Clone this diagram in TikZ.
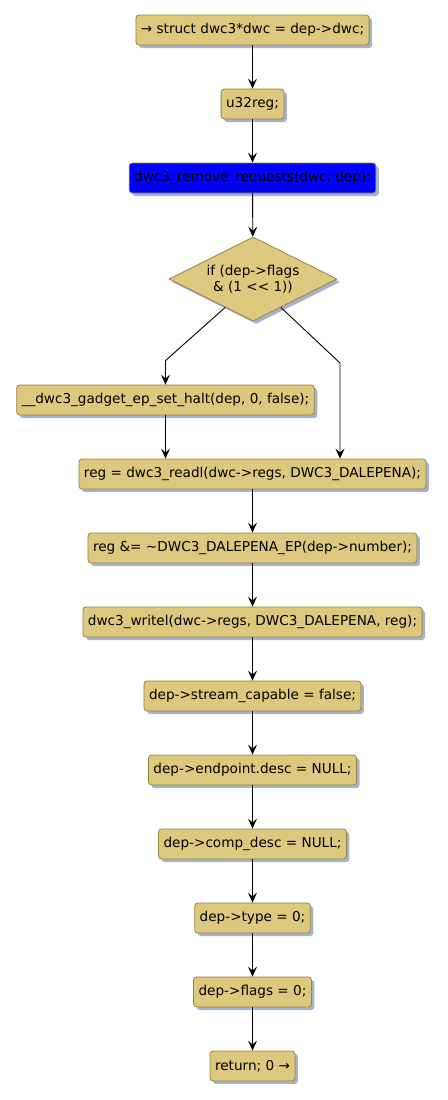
\documentclass[tikz,border=0pt]{standalone}
\usepackage{fontspec}
\setmainfont{DejaVu Sans}
\usetikzlibrary{arrows.meta,shapes.geometric,calc}
\definecolor{boxfill}{RGB}{221,201,125}
\definecolor{boxline}{RGB}{150,130,70}
\definecolor{shadowc}{RGB}{165,180,205}
\begin{document}
\begin{tikzpicture}[x=1pt,y=-1pt,
  font=\fontsize{13.6}{15.5}\selectfont,
  stepbox/.style={draw=boxline, fill=boxfill, rounded corners=3pt, line width=0.8pt,
    minimum height=30pt, inner xsep=5pt, inner ysep=0pt,
    preaction={fill=shadowc, transform canvas={xshift=3pt,yshift=-3pt}}},
  bluebox/.style={stepbox, fill=blue},
  decision/.style={diamond, aspect=2, draw=boxline, fill=boxfill, line width=0.8pt,
    minimum width=168pt, minimum height=84pt, inner sep=0pt, align=center,
    preaction={fill=shadowc, transform canvas={xshift=3pt,yshift=-3pt}}},
  flow/.style={line width=0.9pt, -{Stealth[length=10pt,width=9pt,inset=4pt]}}
]
\useasboundingbox (0,0) rectangle (447,1100);
\node[stepbox] (n1) at (252.5,30) {→ struct dwc3*dwc = dep->dwc;};
\node[stepbox] (n2) at (252.5,104) {u32reg;};
\node[bluebox] (n3) at (252.5,178) {dwc3\_remove\_requests(dwc, dep);};
\node[decision] (d) at (253,279) {if (dep->flags\\\& (1 <\kern0pt< 1))};
\node[stepbox] (halt) at (165.5,400) {\_\_dwc3\_gadget\_ep\_set\_halt(dep, 0, false);};
\node[stepbox] (readl) at (252.5,474) {reg = dwc3\_readl(dwc->regs, DWC3\_DALEPENA);};
\node[stepbox] (andeq) at (252.5,548) {reg \&= \textasciitilde DWC3\_DALEPENA\_EP(dep->number);};
\node[stepbox] (writel) at (252.5,622) {dwc3\_writel(dwc->regs, DWC3\_DALEPENA, reg);};
\node[stepbox] (sc) at (252.5,696) {dep->stream\_capable = false;};
\node[stepbox] (ed) at (252.5,770) {dep->endpoint.desc = NULL;};
\node[stepbox] (cd) at (252.5,844) {dep->comp\_desc = NULL;};
\node[stepbox] (ty) at (252.5,918) {dep->type = 0;};
\node[stepbox] (fl) at (252.5,992) {dep->flags = 0;};
\node[stepbox] (ret) at (252.5,1066) {return; 0 →};
\coordinate (rb) at (340,363);

\draw[flow] (n1) -- (n2);
\draw[flow] (n2) -- (n3);
\draw[flow] (n3) -- (d);
\draw[flow] ($(d.west)!0.67!(d.south)$) -- ([yshift=24pt]halt.north) -- (halt.north);
\draw[flow] ($(d.south)!0.33!(d.east)$) -- (rb) -- (rb |- readl.north);
\draw[flow] (halt.south) -- (halt.south |- readl.north);
\draw[flow] (readl) -- (andeq);
\draw[flow] (andeq) -- (writel);
\draw[flow] (writel) -- (sc);
\draw[flow] (sc) -- (ed);
\draw[flow] (ed) -- (cd);
\draw[flow] (cd) -- (ty);
\draw[flow] (ty) -- (fl);
\draw[flow] (fl) -- (ret);
\end{tikzpicture}
\end{document}
